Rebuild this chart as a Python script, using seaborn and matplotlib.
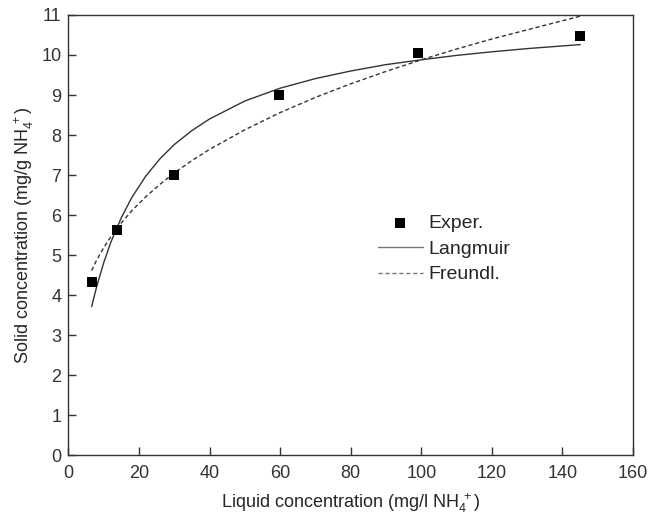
import matplotlib
matplotlib.use("Agg")
import matplotlib.pyplot as plt
import seaborn as sns
import pandas as pd

# Experimental data
exp_x = [6.6, 13.7, 29.8, 59.6, 99.2, 144.9]
exp_y = [4.32, 5.62, 7.00, 9.00, 10.06, 10.48]

# Langmuir curve
lang_x = [6.6, 8, 10, 12, 15, 18, 22, 26, 30, 35, 40, 50, 60, 70, 80, 90, 100, 110, 120, 130, 145]
lang_y = [3.71, 4.20, 4.80, 5.31, 5.93, 6.44, 6.98, 7.41, 7.76, 8.11, 8.40, 8.85, 9.17, 9.41,
          9.60, 9.76, 9.88, 9.99, 10.08, 10.16, 10.26]

# Freundlich curve
freu_x = [6.6, 8, 10, 12, 15, 18, 22, 26, 30, 35, 40, 50, 60, 70, 80, 90, 100, 110, 120, 130, 145]
freu_y = [4.61, 4.87, 5.18, 5.45, 5.80, 6.11, 6.46, 6.77, 7.05, 7.36, 7.64, 8.13, 8.56, 8.94,
          9.28, 9.59, 9.88, 10.15, 10.40, 10.63, 10.97]

x_ticks = [0, 20, 40, 60, 80, 100, 120, 140, 160]
y_ticks = list(range(0, 12))

sns.set_style("ticks")
plt.rcParams['font.family'] = ['Liberation Sans', 'DejaVu Sans']
plt.rcParams['mathtext.fontset'] = 'custom'
plt.rcParams['mathtext.rm'] = 'Liberation Sans'
plt.rcParams['mathtext.it'] = 'Liberation Sans'
plt.rcParams['mathtext.default'] = 'regular'

fig = plt.figure(figsize=(6.52, 5.19), dpi=100)
ax = fig.add_axes([0.1048, 0.1233, 0.8662, 0.8478])

df_exp = pd.DataFrame({"x": exp_x, "y": exp_y})
df_lang = pd.DataFrame({"x": lang_x, "y": lang_y})
df_freu = pd.DataFrame({"x": freu_x, "y": freu_y})

sns.lineplot(data=df_lang, x="x", y="y", ax=ax, color="#333333", lw=1.0,
             label="Langmuir", sort=True, estimator=None)
sns.lineplot(data=df_freu, x="x", y="y", ax=ax, color="#333333", lw=1.0,
             label="Freundl.", sort=True, estimator=None)
ax.lines[-1].set_dashes([3, 2])
sns.scatterplot(data=df_exp, x="x", y="y", ax=ax, marker="s", color="black",
                s=42, edgecolor="black", linewidth=0, label="Exper.", zorder=5)

ax.set_xlim(0, 160)
ax.set_ylim(0, 11)
ax.set_xticks(x_ticks)
ax.set_yticks(y_ticks)
ax.tick_params(direction="in", length=6, width=1, labelsize=13, colors="#333333",
               top=False, right=False)
ax.tick_params(axis="x", pad=7)
ax.tick_params(axis="y", pad=5)
for s in ax.spines.values():
    s.set_linewidth(1.0)
    s.set_color("#333333")

ax.set_xlabel("Liquid concentration (mg/l NH$_4^{\\ +}$)", fontsize=13, labelpad=7)
ax.set_ylabel("Solid concentration (mg/g NH$_4^{\\ +}$)", fontsize=13, labelpad=4)

handles, labels = ax.get_legend_handles_labels()
order = [labels.index("Exper."), labels.index("Langmuir"), labels.index("Freundl.")]
leg = ax.legend([handles[i] for i in order], [labels[i] for i in order],
                loc="upper left", bbox_to_anchor=(0.548, 0.547), frameon=False,
                borderaxespad=0, borderpad=0,
                fontsize=14, handlelength=2.3, labelspacing=0.42, handletextpad=0.3)
for ln in leg.get_lines():
    ln.set_color("#777777")

fig.savefig("out.png", dpi=100)
